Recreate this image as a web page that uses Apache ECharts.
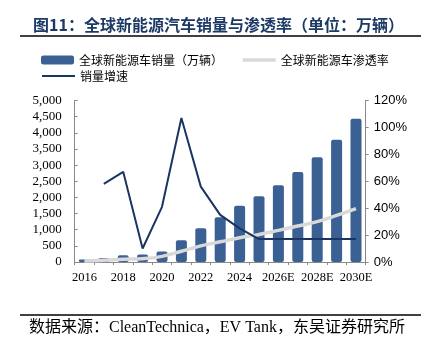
<!DOCTYPE html>
<html>
<head>
<meta charset="utf-8">
<script src="https://cdn.jsdelivr.net/npm/echarts@6/dist/echarts.min.js"></script>
<style>
html,body{margin:0;padding:0;background:#fff;}
#c{width:433px;height:356px;}
</style>
</head>
<body>
<div id="c"></div>
<script>
var categories = ['2016','2017','2018','2019','2020','2021','2022','2023','2024','2025E','2026E','2027E','2028E','2029E','2030E'];
var sales = [79,125,208,230,324,670,1045,1389,1738,2037,2377,2787,3241,3787,4435];
var penetration = [0.8,1.3,2.1,2.5,4.2,8,12,15,18,20.5,23.5,26.7,30,34.6,39.7];
var growth = [null,58,67,10,41,107,56,35,25,17,17,17,17,17,17];
var leftTicks = [0,500,1000,1500,2000,2500,3000,3500,4000,4500,5000];
var rightTicks = [0,20,40,60,80,100,120];

var titleText = '图11：全球新能源汽车销量与渗透率（单位：万辆）';
var sourceText = '数据来源：CleanTechnica，EV Tank，东吴证券研究所';
var nameSales = '全球新能源车销量（万辆）';
var namePen = '全球新能源车渗透率';
var nameGrowth = '销量增速';

var serif = '"Liberation Serif","Noto Sans CJK SC",serif';
var sans = '"Liberation Sans","Noto Sans CJK SC",sans-serif';
var cjk = '"Noto Sans CJK SC",sans-serif';

var chart = echarts.init(document.getElementById('c'), null, {renderer:'canvas'});
chart.setOption({
  animation: false,
  backgroundColor: '#fff',
  title: {
    text: titleText, left: 28, top: 12,
    textStyle: {fontFamily: cjk, fontSize: 16, fontWeight: 'bold', color: '#1d3a66'}
  },
  graphic: [
    {type:'line', shape:{x1:20,y1:36,x2:421,y2:36}, style:{stroke:'#000',lineWidth:1.5}},
    {type:'line', shape:{x1:20,y1:315,x2:421,y2:315}, style:{stroke:'#000',lineWidth:1.5}},
    {type:'text', left: 29, top: 320, style:{text: sourceText, font: '16px ' + serif, fill:'#000'}}
  ],
  legend: [
    {
      left: 36, top: 49, itemGap: 18, itemWidth: 33, itemHeight: 9,
      textStyle: {fontFamily: cjk, fontSize: 12, color: '#000'},
      data: [
        {name: nameSales, icon: 'roundRect'},
        {name: namePen, itemStyle: {opacity: 0}, lineStyle: {width: 3.5, color: '#d9d9d9'}}
      ]
    },
    {
      left: 36, top: 65, itemWidth: 33, itemHeight: 9,
      textStyle: {fontFamily: cjk, fontSize: 12, color: '#000'},
      data: [{name: nameGrowth, itemStyle: {opacity: 0}, lineStyle: {width: 2, color: '#1b3563'}}]
    }
  ],
  grid: {left: 74.7, right: 67.3, top: 100.5, bottom: 94, containLabel: false},
  xAxis: {
    type: 'category', data: categories, boundaryGap: true,
    axisLine: {lineStyle: {color: '#898989', width: 1}},
    axisTick: {show: true, interval: 0, length: 3, lineStyle: {color: '#898989'}},
    axisLabel: {interval: 1, margin: 9, fontFamily: serif, fontSize: 12.5, color: '#000'}
  },
  yAxis: [
    {
      type: 'value', min: leftTicks[0], max: leftTicks[leftTicks.length-1], interval: 500,
      axisLine: {show: true, lineStyle: {color: '#898989'}},
      axisTick: {show: true, inside: true, length: 3, lineStyle: {color: '#898989'}},
      splitLine: {show: false},
      axisLabel: {margin: 13, fontFamily: serif, fontSize: 13, color: '#000',
        formatter: function(v){ return String(v).replace(/\B(?=(\d{3})+(?!\d))/g, ','); }}
    },
    {
      type: 'value', min: rightTicks[0], max: rightTicks[rightTicks.length-1], interval: 20,
      position: 'right',
      axisLine: {show: true, lineStyle: {color: '#898989'}},
      axisTick: {show: true, inside: false, length: 3, lineStyle: {color: '#898989'}},
      splitLine: {show: false},
      axisLabel: {margin: 8, fontFamily: sans, fontSize: 13, color: '#000', formatter: '{value}%'}
    }
  ],
  series: [
    {
      name: nameSales, type: 'bar', data: sales, yAxisIndex: 0, barWidth: 11,
      itemStyle: {color: '#3a6094', borderRadius: 2}, z: 2
    },
    {
      name: namePen, type: 'line', data: penetration, yAxisIndex: 1, smooth: true,
      symbol: 'none', lineStyle: {color: '#d9d9d9', width: 3.5}, itemStyle: {color: '#d9d9d9'}, z: 3
    },
    {
      name: nameGrowth, type: 'line', data: growth, yAxisIndex: 1, smooth: false,
      symbol: 'none', lineStyle: {color: '#1b3563', width: 2}, itemStyle: {color: '#1b3563'}, z: 4
    }
  ]
});
</script>
</body>
</html>
